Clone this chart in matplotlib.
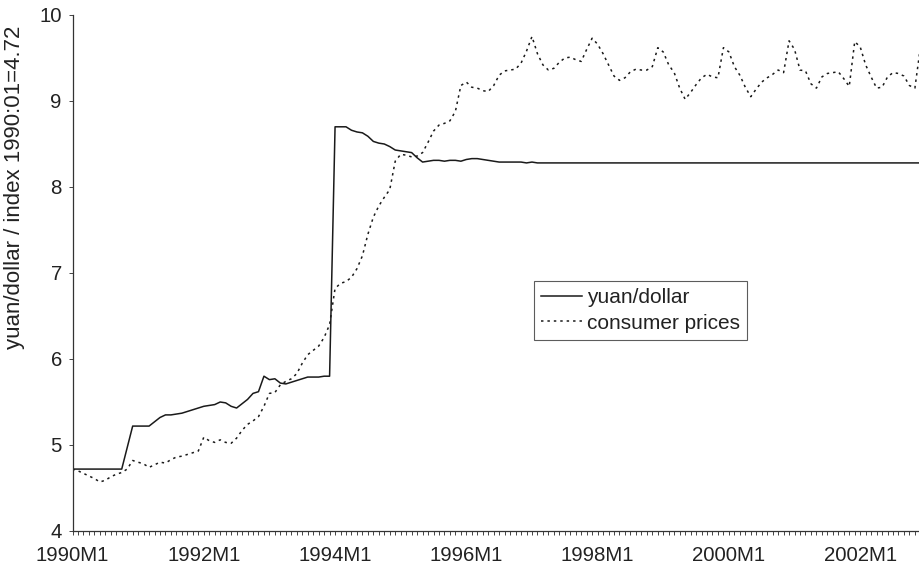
import matplotlib
matplotlib.use("Agg")
import matplotlib.pyplot as plt
from matplotlib.ticker import FixedLocator, MultipleLocator

plt.rcParams['font.family'] = ['Liberation Sans', 'DejaVu Sans']

# Monthly observations, 1990M1 onwards
yuan_dollar = [
    4.72, 4.72, 4.72, 4.72, 4.72, 4.72, 4.72, 4.72, 4.72, 4.72,
    4.97, 5.22, 5.22, 5.22, 5.22, 5.27, 5.32, 5.35, 5.35, 5.36,
    5.37, 5.39, 5.41, 5.43, 5.45, 5.46, 5.47, 5.50, 5.49, 5.45,
    5.43, 5.48, 5.53, 5.60, 5.62, 5.80, 5.76, 5.77, 5.72, 5.71,
    5.73, 5.75, 5.77, 5.79, 5.79, 5.79, 5.80, 5.80, 8.70, 8.70,
    8.70, 8.66, 8.64, 8.63, 8.59, 8.53, 8.51, 8.50, 8.47, 8.43,
    8.42, 8.41, 8.40, 8.34, 8.29, 8.30, 8.31, 8.31, 8.30, 8.31,
    8.31, 8.30, 8.32, 8.33, 8.33, 8.32, 8.31, 8.30, 8.29, 8.29,
    8.29, 8.29, 8.29, 8.28, 8.29, 8.28, 8.28, 8.28, 8.28, 8.28,
    8.28, 8.28, 8.28, 8.28, 8.28, 8.28, 8.28, 8.28, 8.28, 8.28,
    8.28, 8.28, 8.28, 8.28, 8.28, 8.28, 8.28, 8.28, 8.28, 8.28,
    8.28, 8.28, 8.28, 8.28, 8.28, 8.28, 8.28, 8.28, 8.28, 8.28,
    8.28, 8.28, 8.28, 8.28, 8.28, 8.28, 8.28, 8.28, 8.28, 8.28,
    8.28, 8.28, 8.28, 8.28, 8.28, 8.28, 8.28, 8.28, 8.28, 8.28,
    8.28, 8.28, 8.28, 8.28, 8.28, 8.28, 8.28, 8.28, 8.28, 8.28,
    8.28, 8.28, 8.28, 8.28, 8.28, 8.28, 8.28,
]

consumer_prices = [
    4.72, 4.70, 4.67, 4.64, 4.61, 4.57, 4.59, 4.63, 4.66, 4.68,
    4.72, 4.82, 4.80, 4.78, 4.74, 4.77, 4.80, 4.79, 4.83, 4.86,
    4.87, 4.89, 4.91, 4.93, 5.09, 5.05, 5.03, 5.06, 5.03, 5.02,
    5.08, 5.17, 5.24, 5.28, 5.33, 5.45, 5.60, 5.61, 5.70, 5.74,
    5.77, 5.83, 5.95, 6.05, 6.10, 6.15, 6.25, 6.40, 6.82, 6.88,
    6.90, 6.95, 7.05, 7.20, 7.45, 7.65, 7.78, 7.88, 7.97, 8.30,
    8.38, 8.37, 8.35, 8.36, 8.40, 8.52, 8.65, 8.72, 8.74, 8.77,
    8.88, 9.18, 9.22, 9.16, 9.15, 9.12, 9.11, 9.18, 9.30, 9.35,
    9.36, 9.37, 9.44, 9.58, 9.75, 9.55, 9.42, 9.36, 9.38, 9.45,
    9.50, 9.51, 9.48, 9.46, 9.60, 9.73, 9.66, 9.55, 9.42, 9.29,
    9.24, 9.27, 9.34, 9.37, 9.36, 9.36, 9.40, 9.62, 9.57, 9.42,
    9.33, 9.15, 9.02, 9.10, 9.19, 9.27, 9.31, 9.28, 9.27, 9.62,
    9.57, 9.40, 9.30, 9.16, 9.05, 9.14, 9.22, 9.27, 9.31, 9.36,
    9.33, 9.70, 9.60, 9.36, 9.35, 9.20, 9.15, 9.28, 9.32, 9.33,
    9.34, 9.26, 9.17, 9.69, 9.63, 9.42, 9.28, 9.15, 9.16, 9.28,
    9.33, 9.32, 9.29, 9.18, 9.15, 9.62, 9.70,
]

tick_labels = ["1990M1", "1992M1", "1994M1", "1996M1", "1998M1", "2000M1", "2002M1"]
y_label = "yuan/dollar / index 1990:01=4.72"

months = list(range(len(yuan_dollar)))

fig = plt.figure(figsize=(9.2, 5.77), dpi=100)
ax = fig.add_axes([72.5 / 920, 46 / 577, 847.5 / 920, 516 / 577])

ax.plot(months, yuan_dollar, color="#1a1a1a", lw=1.1, label="yuan/dollar")
ax.plot(months, consumer_prices, color="#1a1a1a", lw=1.1,
        linestyle=(0, (1.6, 2.6)), label="consumer prices")

ax.set_xlim(0, 847.5 / 5.47)
ax.set_ylim(4, 10)

for s in ["top", "right"]:
    ax.spines[s].set_visible(False)
for s in ["left", "bottom"]:
    ax.spines[s].set_linewidth(0.9)
    ax.spines[s].set_color("#333333")

major_pos = [24 * i for i in range(len(tick_labels))]
ax.xaxis.set_major_locator(FixedLocator(major_pos))
ax.set_xticklabels(tick_labels)
ax.xaxis.set_minor_locator(MultipleLocator(1))
ax.tick_params(axis="x", which="both", direction="out", length=3, width=0.7,
               color="#444444", labelsize=14.7, pad=7.5, labelcolor="#222222")
ax.yaxis.set_major_locator(MultipleLocator(1))
ax.tick_params(axis="y", which="major", direction="out", length=3.2, width=0.7,
               color="#444444", labelsize=14.7, pad=4.5, labelcolor="#222222")

ax.set_ylabel(y_label, fontsize=16, color="#222222")
ax.yaxis.set_label_coords((25 - 72.5) / 847.5, (531 - 187) / 516)

leg = ax.legend(loc="upper left", bbox_to_anchor=(534 / 920, 1 - 281 / 577),
                bbox_transform=fig.transFigure, borderaxespad=0,
                fontsize=15, frameon=True, fancybox=False, handlelength=1.95,
                handletextpad=0.25, borderpad=0.35, labelspacing=0.3,
                edgecolor="#333333")
leg.get_frame().set_linewidth(0.8)
for t in leg.get_texts():
    t.set_color("#222222")

fig.savefig("out.png", dpi=100)
